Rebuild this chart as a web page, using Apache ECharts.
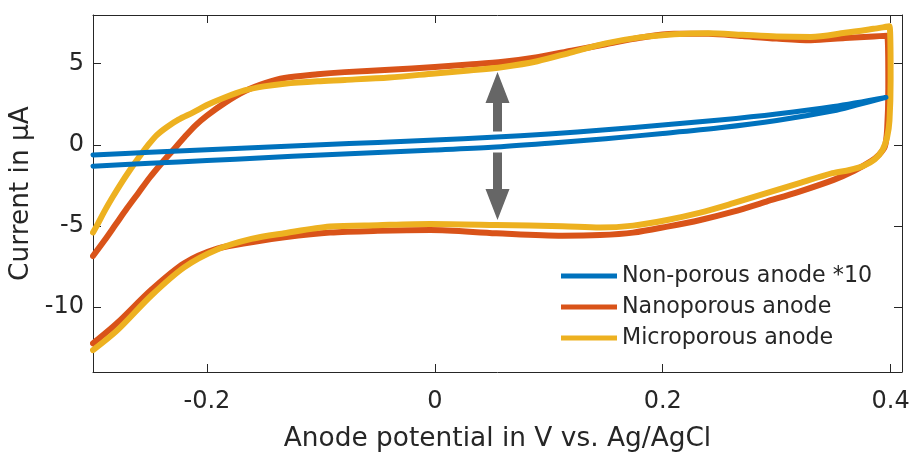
<!DOCTYPE html>
<html>
<head>
<meta charset="utf-8">
<script src="https://cdn.jsdelivr.net/npm/echarts@6/dist/echarts.min.js"></script>
<style>
  html, body { margin: 0; padding: 0; background: #ffffff; }
  #chart { width: 915px; height: 455px; }
</style>
</head>
<body>
<div id="chart"></div>
<script>
// Cyclic voltammograms: [potential in V vs. Ag/AgCl, current in µA]
// Each scan runs anodic (upper branch) to 0.4 V, then back cathodic (lower branch).

const seriesNames = ['Non-porous anode *10', 'Nanoporous anode', 'Microporous anode'];

// Non-porous anode, current multiplied by 10
const nonPorousScan = [
  [-0.300, -0.62], [-0.250, -0.46], [-0.200, -0.31], [-0.150, -0.15], [-0.100, 0.00],
  [-0.050, 0.15], [0.000, 0.30], [0.050, 0.46], [0.100, 0.66], [0.150, 0.93],
  [0.200, 1.22], [0.250, 1.53], [0.300, 1.90], [0.350, 2.36], [0.396, 2.92],
  [0.370, 2.45], [0.350, 2.10], [0.300, 1.50], [0.250, 1.05], [0.200, 0.70],
  [0.150, 0.38], [0.100, 0.10], [0.050, -0.15], [0.000, -0.32], [-0.050, -0.47],
  [-0.100, -0.62], [-0.150, -0.80], [-0.200, -0.97], [-0.250, -1.14], [-0.300, -1.32]
];

const nanoporousScan = [
  [-0.300, -6.85], [-0.290, -5.90], [-0.280, -4.90], [-0.270, -3.90], [-0.260, -2.95],
  [-0.250, -2.00], [-0.240, -1.15], [-0.230, -0.35], [-0.220, 0.45], [-0.210, 1.20],
  [-0.200, 1.80], [-0.184, 2.60], [-0.167, 3.30], [-0.149, 3.80], [-0.132, 4.12],
  [-0.103, 4.35], [-0.079, 4.48], [-0.040, 4.62], [0.000, 4.80], [0.030, 4.95],
  [0.060, 5.12], [0.090, 5.40], [0.120, 5.80], [0.150, 6.20], [0.180, 6.60],
  [0.210, 6.85], [0.240, 6.85], [0.270, 6.70], [0.300, 6.55], [0.330, 6.45],
  [0.360, 6.58], [0.385, 6.68], [0.397, 6.72],
  [0.398, 3.50], [0.397, 1.00], [0.395, -0.10], [0.390, -0.60], [0.383, -1.00],
  [0.368, -1.60], [0.350, -2.16], [0.320, -2.88], [0.291, -3.50], [0.262, -4.12],
  [0.233, -4.63], [0.204, -5.04], [0.174, -5.41], [0.145, -5.56], [0.112, -5.60],
  [0.054, -5.45], [-0.004, -5.25], [-0.050, -5.30], [-0.092, -5.41], [-0.132, -5.70],
  [-0.161, -6.00], [-0.191, -6.40], [-0.220, -7.30], [-0.249, -8.95], [-0.279, -11.00],
  [-0.300, -12.24]
];

const microporousScan = [
  [-0.300, -5.40], [-0.296, -4.90], [-0.290, -4.10], [-0.283, -3.25], [-0.276, -2.45],
  [-0.268, -1.60], [-0.260, -0.80], [-0.252, -0.05], [-0.244, 0.60], [-0.235, 1.10],
  [-0.225, 1.55], [-0.212, 2.00], [-0.200, 2.45], [-0.185, 2.90], [-0.167, 3.35],
  [-0.150, 3.60], [-0.132, 3.77], [-0.103, 3.92], [-0.079, 4.00], [-0.040, 4.15],
  [0.000, 4.40], [0.030, 4.58], [0.060, 4.80], [0.090, 5.15], [0.120, 5.70],
  [0.150, 6.25], [0.180, 6.62], [0.210, 6.82], [0.240, 6.88], [0.270, 6.78],
  [0.300, 6.68], [0.330, 6.65], [0.360, 6.90], [0.385, 7.15], [0.399, 7.30],
  [0.400, 4.00], [0.399, 1.50], [0.397, 0.50], [0.393, -0.30], [0.386, -0.90],
  [0.376, -1.30], [0.364, -1.55], [0.349, -1.75], [0.320, -2.36], [0.291, -2.98],
  [0.262, -3.60], [0.233, -4.18], [0.204, -4.63], [0.174, -4.98], [0.145, -5.10],
  [0.112, -5.02], [0.054, -4.94], [-0.004, -4.88], [-0.050, -4.95], [-0.092, -5.04],
  [-0.132, -5.45], [-0.161, -5.80], [-0.191, -6.45], [-0.220, -7.55], [-0.249, -9.30],
  [-0.279, -11.45], [-0.300, -12.65]
];

// Double-headed marker between the loops: [potential, start current, tip current]
const capacitanceArrows = [
  [0.055, 0.82, 4.48],
  [0.055, -0.48, -4.63]
];

const xTickValues = [-0.2, 0, 0.2, 0.4];
const xTickLabels = ['-0.2', '0', '0.2', '0.4'];
const yTickValues = [-10, -5, 0, 5];
const yTickLabels = ['-10', '-5', '0', '5'];

const seriesColors = ['#0072BD', '#D95319', '#EDB120'];
const textColor = '#262626';
const axisColor = '#262626';
const fontFamily = 'DejaVu Sans';

const chart = echarts.init(document.getElementById('chart'), null, { renderer: 'canvas' });

function tickLabel(values, labels) {
  return function (v) {
    for (let i = 0; i < values.length; i++) {
      if (Math.abs(values[i] - v) < 1e-9) return labels[i];
    }
    return '';
  };
}

const axisLine = { show: true, onZero: false, lineStyle: { color: axisColor, width: 1 } };

function xAxisDef(position, showLabels) {
  return {
    type: 'value', position: position, min: -0.3, max: 0.41,
    axisLine: axisLine,
    axisTick: { show: true, inside: true, length: 8, customValues: xTickValues,
                lineStyle: { color: axisColor, width: 1 } },
    axisLabel: { show: showLabels, customValues: xTickValues, margin: 18,
                 formatter: tickLabel(xTickValues, xTickLabels),
                 color: textColor, fontSize: 24, fontFamily: fontFamily },
    splitLine: { show: false },
    name: showLabels ? 'Anode potential in V vs. Ag/AgCl' : '',
    nameLocation: 'middle', nameGap: 54,
    nameTextStyle: { color: textColor, fontSize: 26.4, fontFamily: fontFamily }
  };
}

function yAxisDef(position, showLabels) {
  return {
    type: 'value', position: position, min: -14, max: 8,
    axisLine: axisLine,
    axisTick: { show: true, inside: true, length: 8, customValues: yTickValues,
                lineStyle: { color: axisColor, width: 1 } },
    axisLabel: { show: showLabels, customValues: yTickValues, margin: 9,
                 formatter: tickLabel(yTickValues, yTickLabels),
                 color: textColor, fontSize: 24, fontFamily: fontFamily },
    splitLine: { show: false },
    name: showLabels ? 'Current in μA' : '',
    nameLocation: 'middle', nameGap: 55,
    nameTextStyle: { color: textColor, fontSize: 26.4, fontFamily: fontFamily }
  };
}

function scanSeries(name, data, color, width) {
  return {
    name: name, type: 'line', data: data,
    xAxisIndex: 0, yAxisIndex: 0,
    showSymbol: false, symbol: 'none', smooth: 0.3,
    lineStyle: { color: color, width: width, cap: 'round', join: 'round' },
    itemStyle: { color: color },
    emphasis: { disabled: true }
  };
}

// Block arrow: shaft from start value to the tip value, head drawn in pixels
function renderArrow(params, api) {
  const x = api.value(0);
  const p0 = api.coord([x, api.value(1)]);
  const p1 = api.coord([x, api.value(2)]);
  const dir = p1[1] < p0[1] ? -1 : 1;
  const headLen = 31, headHalf = 12, shaftHalf = 4.5;
  const baseY = p1[1] - dir * headLen;
  const cx = p0[0];
  return {
    type: 'polygon',
    shape: {
      points: [
        [cx - shaftHalf, p0[1]], [cx - shaftHalf, baseY], [cx - headHalf, baseY],
        [cx, p1[1]],
        [cx + headHalf, baseY], [cx + shaftHalf, baseY], [cx + shaftHalf, p0[1]]
      ]
    },
    style: { fill: '#666666' }
  };
}

const option = {
  animation: false,
  backgroundColor: '#ffffff',
  textStyle: { fontFamily: fontFamily },
  grid: { left: 93, right: 13, top: 15, bottom: 83, containLabel: false, outerBoundsMode: 'none' },
  xAxis: [xAxisDef('bottom', true), xAxisDef('top', false)],
  yAxis: [yAxisDef('left', true), yAxisDef('right', false)],
  legend: {
    data: seriesNames,
    orient: 'vertical',
    left: 561, top: 265, padding: 0,
    itemWidth: 56, itemHeight: 5, itemGap: 9,
    icon: 'rect',
    selectedMode: false,
    textStyle: { color: textColor, fontSize: 22.2, fontFamily: fontFamily }
  },
  series: [
    scanSeries(seriesNames[1], nanoporousScan, seriesColors[1], 6),
    scanSeries(seriesNames[2], microporousScan, seriesColors[2], 6),
    {
      name: 'arrow', type: 'custom', renderItem: renderArrow,
      data: capacitanceArrows, encode: { x: 0, y: [1, 2] },
      xAxisIndex: 0, yAxisIndex: 0, silent: true
    },
    scanSeries(seriesNames[0], nonPorousScan, seriesColors[0], 5)
  ]
};

chart.setOption(option);
</script>
</body>
</html>
